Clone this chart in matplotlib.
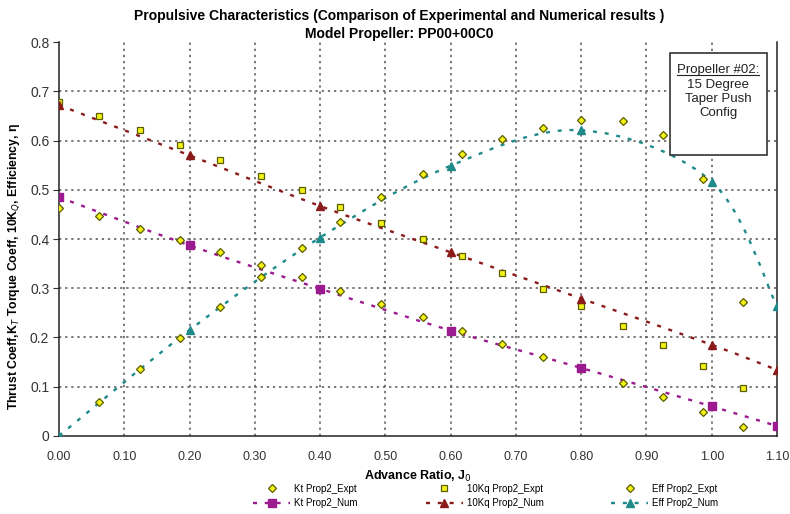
import matplotlib
matplotlib.use("Agg")
import matplotlib.pyplot as plt
import numpy as np
from matplotlib.path import Path
from matplotlib.patches import PathPatch, Rectangle
from matplotlib.lines import Line2D

plt.rcParams['font.family'] = ['Liberation Sans', 'DejaVu Sans']

# experimental points
j_expt = [0.0, 0.061, 0.124, 0.185, 0.247, 0.309, 0.372, 0.430, 0.494,
          0.557, 0.617, 0.679, 0.742, 0.800, 0.864, 0.925, 0.986, 1.048]
kt_expt = [0.462, 0.446, 0.421, 0.399, 0.374, 0.347, 0.322, 0.295, 0.267,
           0.241, 0.214, 0.187, 0.160, 0.137, 0.107, 0.078, 0.048, 0.019]
kq_expt = [0.678, 0.650, 0.621, 0.592, 0.561, 0.529, 0.499, 0.465, 0.433,
           0.401, 0.365, 0.331, 0.299, 0.264, 0.223, 0.185, 0.141, 0.097]
j_eff_expt = j_expt[1:]
eff_expt = [0.068, 0.135, 0.199, 0.261, 0.323, 0.381, 0.435, 0.485,
            0.533, 0.573, 0.604, 0.625, 0.641, 0.639, 0.611, 0.521, 0.271]

# numerical points
j_num = [0.0, 0.2, 0.4, 0.6, 0.8, 1.0, 1.1]
kt_num = [0.485, 0.387, 0.299, 0.214, 0.138, 0.060, 0.020]
kq_num = [0.672, 0.570, 0.467, 0.373, 0.279, 0.185, 0.134]
eff_num = [0.0, 0.215, 0.403, 0.549, 0.621, 0.516, 0.263]

x_ticks = [0.0, 0.1, 0.2, 0.3, 0.4, 0.5, 0.6, 0.7, 0.8, 0.9, 1.0, 1.1]
y_ticks = [0, 0.1, 0.2, 0.3, 0.4, 0.5, 0.6, 0.7, 0.8]
y_tick_labels = ['0', '0.1', '0.2', '0.3', '0.4', '0.5', '0.6', '0.7', '0.8']

c_expt_face = '#f2f21a'
c_expt_edge = '#5c5c00'
c_kt = '#9b1a8f'
c_kq = '#8b1a1a'
c_eff = '#1f8a8a'

ms_d, ms_s, ms_num_s, ms_num_t = 3.6, 4.2, 5.2, 5.8


def smooth_path(x, y):
    # excel-like smoothed line: catmull-rom segments as cubic beziers
    pts = np.column_stack([x, y])
    n = len(pts)
    verts = [pts[0]]
    codes = [Path.MOVETO]
    for i in range(n - 1):
        p0 = pts[max(i - 1, 0)]
        p1 = pts[i]
        p2 = pts[i + 1]
        p3 = pts[min(i + 2, n - 1)]
        verts += [p1 + (p2 - p0) / 6, p2 - (p3 - p1) / 6, p2]
        codes += [Path.CURVE4] * 3
    return Path(verts, codes)


fig = plt.figure(figsize=(7.9, 5.14), dpi=100)
ax = fig.add_axes([0.0747, 0.152, 0.9089, 0.766])

dash = (0, (1.7, 3.3))
for y, c in [(kt_num, c_kt), (kq_num, c_kq), (eff_num, c_eff)]:
    ax.add_patch(PathPatch(smooth_path(j_num, y), fill=False, edgecolor=c,
                           lw=1.7, linestyle=dash, zorder=3))

ax.plot(j_expt, kt_expt, ls='none', marker='D', ms=ms_d, mfc=c_expt_face,
        mec=c_expt_edge, mew=0.9, zorder=4)
ax.plot(j_expt, kq_expt, ls='none', marker='s', ms=ms_s, mfc=c_expt_face,
        mec=c_expt_edge, mew=0.9, zorder=4)
ax.plot(j_eff_expt, eff_expt, ls='none', marker='D', ms=ms_d, mfc=c_expt_face,
        mec=c_expt_edge, mew=0.9, zorder=4)
ax.plot(j_num, kt_num, ls='none', marker='s', ms=ms_num_s, color=c_kt, zorder=5)
ax.plot(j_num, kq_num, ls='none', marker='^', ms=ms_num_t, color=c_kq, zorder=5)
ax.plot(j_num, eff_num, ls='none', marker='^', ms=ms_num_t, color=c_eff, zorder=5)

ax.set_xlim(0, 1.1)
ax.set_ylim(0, 0.8)
ax.set_xticks(x_ticks)
ax.set_xticklabels([f"{v:.2f}" for v in x_ticks])
ax.set_yticks(y_ticks)
ax.set_yticklabels(y_tick_labels)
ax.tick_params(axis='x', labelsize=9, colors='#333333', length=0, pad=11)
ax.tick_params(axis='y', labelsize=10, colors='#333333', length=4, pad=3)

ax.grid(True, ls=(0, (1.5, 2.5)), color='#555555', lw=1.1)
for t, v in zip(ax.yaxis.get_major_ticks(), y_ticks):
    t.gridline.set_visible(0 < v < 0.8)
for t, v in zip(ax.xaxis.get_major_ticks(), x_ticks):
    t.gridline.set_visible(0 < v < 1.1)
ax.spines['top'].set_visible(False)
for s in ['left', 'bottom', 'right']:
    ax.spines[s].set_color('#222222')
    ax.spines[s].set_linewidth(1.1)

ax.set_xlabel('Advance Ratio, J$_0$', fontsize=9, fontweight='bold', labelpad=4)
ax.set_ylabel('Thrust Coeff,K$_T$ Torque Coeff, 10K$_Q$, Efficiency, η',
              fontsize=8.8, fontweight='bold')
ax.yaxis.set_label_coords(-0.051, 0.43)

fig.suptitle('Propulsive Characteristics (Comparison of Experimental and Numerical results )\n'
             'Model Propeller: PP00+00C0', fontsize=10, fontweight='bold',
             x=0.505, y=0.983, linespacing=1.35)

# annotation box
fig.add_artist(Rectangle((0.848, 0.6984), 0.1228, 0.1984, transform=fig.transFigure,
                         facecolor='white', edgecolor='#333333', lw=1.2, zorder=6))
box_lines = ['Propeller #02:', '15 Degree', 'Taper Push', 'Config']
box_y = [0.8638, 0.8346, 0.8074, 0.7802]
texts = []
for s, yy in zip(box_lines, box_y):
    texts.append(fig.text(0.909, yy, s, ha='center', va='center', fontsize=9.5,
                          color='#222222', zorder=7))

handles = [
    Line2D([], [], ls='none', marker='D', ms=ms_d, mfc=c_expt_face, mec=c_expt_edge, mew=0.9),
    Line2D([], [], ls=dash, lw=1.7, color=c_kt, marker='s', ms=ms_num_s),
    Line2D([], [], ls='none', marker='s', ms=ms_s, mfc=c_expt_face, mec=c_expt_edge, mew=0.9),
    Line2D([], [], ls=dash, lw=1.7, color=c_kq, marker='^', ms=ms_num_t),
    Line2D([], [], ls='none', marker='D', ms=ms_d, mfc=c_expt_face, mec=c_expt_edge, mew=0.9),
    Line2D([], [], ls=dash, lw=1.7, color=c_eff, marker='^', ms=ms_num_t),
]
labels = ['Kt Prop2_Expt', 'Kt Prop2_Num', '10Kq Prop2_Expt', '10Kq Prop2_Num',
          'Eff Prop2_Expt', 'Eff Prop2_Num']
fig.legend(handles, labels, ncol=3, loc='center', bbox_to_anchor=(0.615, 0.035),
           frameon=False, fontsize=7, handlelength=3.8, handletextpad=0.4,
           columnspacing=7, labelspacing=0.45, borderpad=0)

# underline first line of the box
fig.canvas.draw()
bb = texts[0].get_window_extent().transformed(fig.transFigure.inverted())
fig.add_artist(Line2D([bb.x0, bb.x1], [bb.y0 + 0.002, bb.y0 + 0.002],
                      transform=fig.transFigure, color='#222222', lw=0.8, zorder=7))

fig.savefig('out.png', dpi=100, facecolor='white')
